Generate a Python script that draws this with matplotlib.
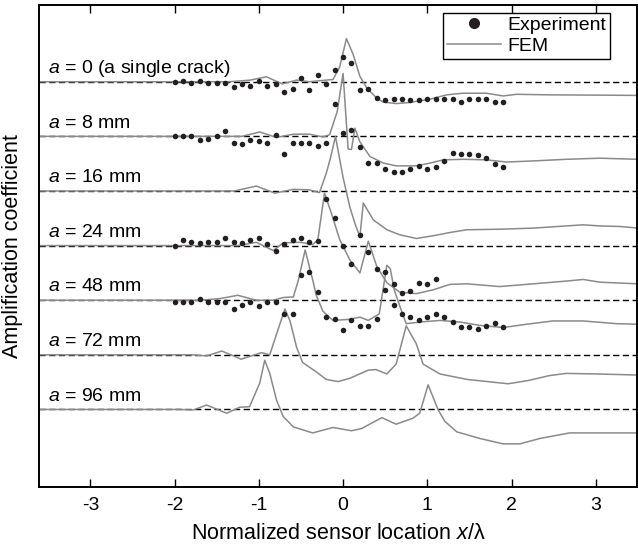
import numpy as np
import matplotlib
matplotlib.use("Agg")
from matplotlib import pyplot as plt

plt.rcParams['font.family'] = ['Liberation Sans', 'DejaVu Sans']
plt.rcParams['mathtext.fontset'] = 'custom'
plt.rcParams['mathtext.rm'] = 'Liberation Sans'
plt.rcParams['mathtext.it'] = 'Liberation Sans:italic'
plt.rcParams['axes.unicode_minus'] = False

# crack spacing labels, top to bottom
labels = ["$a$ = 0 (a single crack)", "$a$ = 8 mm", "$a$ = 16 mm", "$a$ = 24 mm",
          "$a$ = 48 mm", "$a$ = 72 mm", "$a$ = 96 mm"]

# FEM curves (x/lambda, amplification relative to baseline)
fem_a0_x = [-3.6, -1.35, -1.1, -0.91, -0.72, -0.55, -0.4, -0.2, -0.12, -0.04, 0.04, 0.12, 0.2,
            0.28, 0.38, 0.47, 0.63, 0.79, 1.03, 1.23, 1.42, 1.7, 1.9, 2.06, 2.45, 3.5]
fem_a0_y = [0, 0, 0.03, 0.09, -0.04, 0.03, 0.0, 0.03, 0.04, 0.27, 0.79, 0.5, 0.1,
            -0.11, -0.27, -0.37, -0.40, -0.38, -0.32, -0.24, -0.21, -0.21, -0.26, -0.23, -0.24, -0.25]

fem_a8_x = [-3.6, -1.2, -0.99, -0.79, -0.59, -0.4, -0.24, -0.16, -0.07, 0.0, 0.06, 0.1, 0.14, 0.2,
            0.32, 0.48, 0.63, 0.87, 1.03, 1.19, 1.43, 1.7, 1.94, 2.26, 2.65, 3.05, 3.5]
fem_a8_y = [0, 0, 0.08, -0.02, 0.04, 0.04, -0.01, 0.03, 0.45, 1.15, -0.23, -0.24, 0.15, -0.1,
            -0.37, -0.49, -0.54, -0.54, -0.49, -0.43, -0.42, -0.43, -0.47, -0.45, -0.42, -0.40, -0.42]

fem_a16_x = [-3.6, -1.29, -1.03, -0.81, -0.59, -0.4, -0.28, -0.2, -0.15, -0.09, 0.0, 0.08, 0.14, 0.2,
             0.24, 0.36, 0.52, 0.67, 0.87, 1.07, 1.27, 1.47, 1.86, 2.26, 2.65, 2.85, 3.05, 3.29, 3.5]
fem_a16_y = [0, 0, 0.09, -0.04, 0.03, 0.02, -0.03, 0.32, 0.6, 1.0, 0.25, -0.29, -0.59, -0.84,
             -0.22, -0.53, -0.71, -0.8, -0.87, -0.82, -0.76, -0.71, -0.70, -0.68, -0.64, -0.62, -0.64, -0.65, -0.68]

fem_a24_x = [-3.6, -1.25, -1.03, -0.83, -0.71, -0.51, -0.36, -0.3, -0.22, -0.14, -0.04, 0.08, 0.2,
             0.3, 0.4, 0.52, 0.67, 0.87, 1.07, 1.27, 1.47, 1.86, 2.26, 2.65, 2.85, 3.05, 3.5]
fem_a24_y = [0, 0, 0.06, -0.09, 0.05, 0.06, 0.02, 0.1, 0.96, 0.6, 0.11, -0.26, -0.5,
             0.08, -0.38, -0.68, -0.85, -0.88, -0.81, -0.71, -0.70, -0.75, -0.70, -0.65, -0.62, -0.67, -0.70]

fem_a48_x = [-3.6, -1.7, -1.46, -1.25, -1.03, -0.83, -0.71, -0.59, -0.53, -0.45, -0.36, -0.32, -0.24,
             -0.12, 0.08, 0.2, 0.3, 0.43, 0.52, 0.56, 0.61, 0.69, 0.75, 0.91, 1.15, 1.39, 1.62, 1.9,
             2.18, 2.49, 2.85, 3.25, 3.5]
fem_a48_y = [0, 0, 0.03, 0.09, 0.0, 0.0, 0.05, 0.06, 0.37, 0.92, 0.37, 0.1, -0.2,
             -0.37, -0.35, -0.31, -0.37, -0.25, 0.64, 0.58, 0.18, -0.18, -0.43, -0.4, -0.37, -0.4, -0.46, -0.5,
             -0.44, -0.38, -0.38, -0.43, -0.44]

fem_a72_x = [-3.6, -1.78, -1.62, -1.44, -1.21, -0.97, -0.87, -0.79, -0.69, -0.63, -0.55, -0.48, -0.32,
             -0.2, -0.06, 0.08, 0.3, 0.39, 0.52, 0.63, 0.75, 0.87, 0.95, 1.15, 1.47, 1.96, 2.2, 2.45,
             2.65, 3.0, 3.5]
fem_a72_y = [0, 0, -0.02, 0.07, -0.08, 0.04, 0.0, 0.38, 0.84, 0.62, 0.13, -0.14, -0.31,
             -0.45, -0.49, -0.43, -0.28, -0.27, -0.35, -0.17, 0.53, 0.2, -0.17, -0.35, -0.45, -0.53, -0.47, -0.38,
             -0.34, -0.35, -0.37]

fem_a96_x = [-3.6, -1.94, -1.78, -1.62, -1.38, -1.23, -1.11, -0.99, -0.93, -0.87, -0.79, -0.71, -0.59,
             -0.36, -0.12, 0.1, 0.22, 0.46, 0.63, 0.83, 0.91, 1.01, 1.13, 1.21, 1.35, 1.62, 1.9, 2.1,
             2.34, 2.69, 3.5]
fem_a96_y = [0, 0, -0.01, 0.08, -0.07, 0.04, 0.05, 0.48, 0.9, 0.66, 0.17, -0.13, -0.32,
             -0.43, -0.33, -0.39, -0.35, -0.15, -0.27, -0.16, -0.07, 0.45, -0.01, -0.22, -0.41, -0.53, -0.63, -0.63,
             -0.53, -0.43, -0.43]

# experiment: sensor positions x/lambda
sensor_x = [-2.0, -1.9, -1.8, -1.7, -1.6, -1.5, -1.4, -1.3, -1.2, -1.1, -1.0, -0.9, -0.8, -0.7,
            -0.6, -0.5, -0.4, -0.3, -0.2, -0.1, 0.0, 0.1, 0.2, 0.3, 0.4, 0.5, 0.6, 0.7, 0.8, 0.9,
            1.0, 1.1, 1.2, 1.3, 1.4, 1.5, 1.6, 1.7, 1.8, 1.9]

exp_a0 = [-0.01, 0.01, -0.02, 0.01, -0.02, -0.02, -0.02, -0.09, -0.04, -0.07, 0.02, -0.07, -0.04, -0.19,
          -0.14, 0.07, -0.16, 0.12, -0.05, 0.22, 0.46, 0.34, -0.15, -0.14, -0.29, -0.34, -0.32, -0.32,
          -0.34, -0.34, -0.32, -0.32, -0.32, -0.32, -0.37, -0.32, -0.32, -0.32, -0.37, -0.37]
exp_a8 = [0.01, 0.01, 0.01, -0.07, -0.04, 0.01, 0.09, -0.12, -0.14, -0.07, -0.08, -0.12, 0.03, -0.32,
          -0.12, -0.12, -0.12, -0.17, -0.12, 0.59, 0.07, 0.12, -0.2, -0.48, -0.48, -0.59, -0.66, -0.66,
          -0.6, -0.54, -0.6, -0.57, -0.45, -0.3, -0.32, -0.32, -0.35, -0.39, -0.51, -0.57]
exp_a24 = [0.0, 0.11, 0.07, 0.05, 0.07, 0.07, 0.13, 0.07, 0.05, 0.1, 0.14, 0.02, -0.09, 0.02,
           0.11, 0.13, 0.07, 0.09, 0.86, 0.5, -0.01, -0.33, 0.19, -0.12, -0.43, -0.48, -0.71, -0.87,
           -0.84, -0.68, -0.71, -0.61]
exp_a48 = [-0.03, -0.03, -0.03, 0.03, -0.03, -0.03, -0.03, -0.16, -0.08, -0.03, -0.11, -0.03, -0.03, -0.26,
           -0.26, 0.46, 0.52, 0.15, -0.31, -0.34, -0.55, -0.37, -0.47, -0.47, -0.34, 0.18, -0.09, -0.26,
           -0.31, -0.37, -0.31, -0.26, -0.31, -0.4, -0.49, -0.49, -0.52, -0.47, -0.42, -0.49]

fem_x = [fem_a0_x, fem_a8_x, fem_a16_x, fem_a24_x, fem_a48_x, fem_a72_x, fem_a96_x]
fem_y = [fem_a0_y, fem_a8_y, fem_a16_y, fem_a24_y, fem_a48_y, fem_a72_y, fem_a96_y]
exp_y = {0: exp_a0, 1: exp_a8, 3: exp_a24, 4: exp_a48}

gris = '#8a8a8a'
pts = '#231f20'

fig = plt.figure(figsize=(6.38, 5.51), dpi=100)
ax = fig.add_axes([39/638, 64/551, 598/638, 482/551])

for i in range(len(labels)):
    base = -i
    ax.axhline(base, color='k', lw=1.0, ls=(0, (4.5, 2.5)), zorder=1)
    ax.plot(fem_x[i], np.array(fem_y[i]) + base, color=gris, lw=1.1, zorder=2,
            label='FEM' if i == 0 else None)
    if i in exp_y:
        yy = exp_y[i]
        ax.plot(sensor_x[:len(yy)], np.array(yy) + base, 'o', color=pts, ms=4.0, mec='none', zorder=3,
                label='Experiment' if i == 0 else None)
    ax.text(-3.5, base + 0.16, labels[i], fontsize=14, va='baseline', ha='left')

ax.set_xlim(-3.61, 3.49)
ax.set_ylim(-7.42, 1.405)
ax.set_xticks([-3, -2, -1, 0, 1, 2, 3])
ax.set_yticks([])
ax.tick_params(axis='x', direction='in', top=True, length=6, width=1, labelsize=14, pad=7)
for s in ax.spines.values():
    s.set_linewidth(1.4)

ax.set_xlabel("Normalized sensor location $x$/λ", fontsize=15.5, labelpad=7)
ax.set_ylabel("Amplification coefficient", fontsize=15.5)
ax.yaxis.set_label_coords(-0.026, 0.5)

h, l = ax.get_legend_handles_labels()
order = [l.index('Experiment'), l.index('FEM')]
leg = ax.legend([h[k] for k in order], [l[k] for k in order], loc='upper right',
                bbox_to_anchor=(0.955, 0.984), borderaxespad=0, fontsize=14, markerscale=2.0,
                fancybox=False, framealpha=1, edgecolor='k', handlelength=2.8, handletextpad=0.3,
                labelspacing=0.15, borderpad=0.2)
leg.get_frame().set_linewidth(1.0)

fig.savefig('out.png', dpi=100)
